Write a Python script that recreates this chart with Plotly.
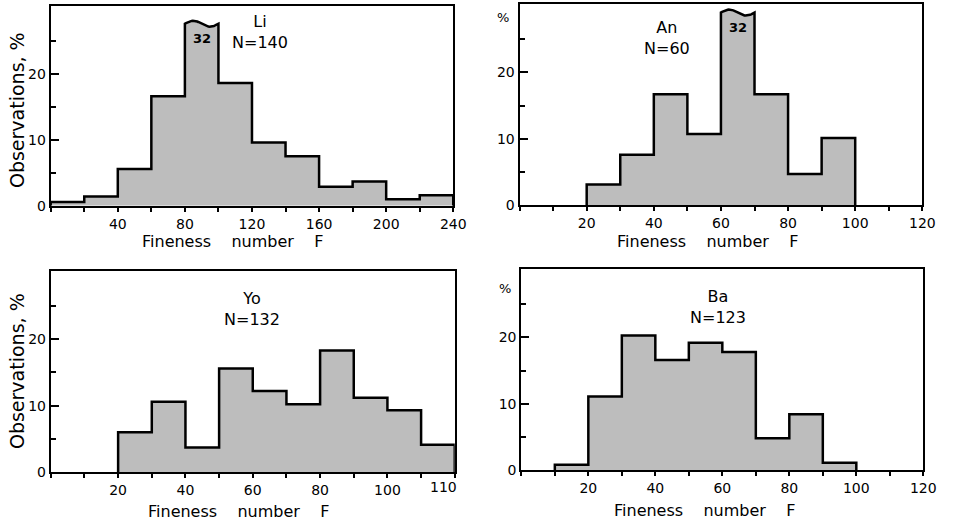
import numpy as np
import plotly.graph_objects as go

# ---------------- data ----------------
li_values = [0.6, 1.4, 5.6, 16.6, 32, 18.6, 9.6, 7.5, 2.9, 3.7, 1.0, 1.6]   # bins of 20 from 0
an_values = [3.1, 7.6, 16.7, 10.7, 32, 16.7, 4.7, 10.1]                     # bins of 10 from 20
yo_values = [6.0, 10.6, 3.7, 15.6, 12.2, 10.2, 18.3, 11.2, 9.3, 4.1]        # bins of 10 from 20
ba_values = [0.8, 11.1, 20.3, 16.6, 19.2, 17.8, 4.8, 8.4, 1.1]              # bins of 10 from 10

names = ["Li", "An", "Yo", "Ba"]
counts = ["N=140", "N=60", "N=132", "N=123"]
bin_starts = [0, 20, 20, 10]
bin_widths = [20, 10, 10, 10]

li_ticks = [40, 80, 120, 160, 200, 240]
an_ticks = [20, 40, 60, 80, 100, 120]
yo_ticks = [20, 40, 60, 80, 100]
yo_extra_label = "110"
ba_ticks = [20, 40, 60, 80, 100, 120]
y_ticks = [0, 10, 20]

x_title = "Fineness    number    F"
y_title = "Observations, %"

FONT = "DejaVu Sans"
FILL = "#bdbdbd"

W, H = 959, 528

panels = [
    dict(values=li_values, x_range=[0, 240], ticks=li_ticks, minor=20, cap=27.6,
         px=(51.4, 459.5, 6, 209), label_xy=(124.5, 26.4), xt=(236, 245)),
    dict(values=an_values, x_range=[0, 120], ticks=an_ticks, minor=10, cap=29.0,
         px=(526.7, 935, 4, 208.3), label_xy=(44, 25.2), xt=(717, 245)),
    dict(values=yo_values, x_range=[0, 120], ticks=yo_ticks, minor=10, cap=None,
         px=(51.5, 461, 275, 479.3), label_xy=(59.8, 24.6), xt=(242, 519)),
    dict(values=ba_values, x_range=[0, 120], ticks=ba_ticks, minor=10, cap=None,
         px=(528.5, 936, 273.3, 477.3), label_xy=(58.8, 24.6), xt=(714, 518)),
]

fig = go.Figure()
annotations = []
layout = dict(
    width=W, height=H, margin=dict(l=0, r=0, t=0, b=0),
    paper_bgcolor="white", plot_bgcolor="white", showlegend=False,
    font=dict(family=FONT, color="black"),
)


def paper_text(px_, py_, text, size, angle=0):
    return dict(x=px_ / W, y=1 - py_ / H, xref="paper", yref="paper",
                xanchor="center", yanchor="middle", text=text, textangle=angle,
                showarrow=False, font=dict(size=size, family=FONT))


for k, p in enumerate(panels):
    idx = "" if k == 0 else str(k + 1)
    xa, ya = "x" + idx, "y" + idx
    vals = p["values"]
    start, width = bin_starts[k], bin_widths[k]
    edges = [start + i * width for i in range(len(vals) + 1)]

    xs, ys = [edges[0]], [0]
    peaks = []
    for i, v in enumerate(vals):
        l, r = edges[i], edges[i + 1]
        if p["cap"] is not None and v > p["cap"]:
            t = np.linspace(0, 1, 31)
            xs += list(l + t * (r - l))
            ys += list(p["cap"] + 0.45 * np.sin(2 * np.pi * t))
            peaks.append(((l + r) / 2, v))
        else:
            xs += [l, r]
            ys += [v, v]
    xs.append(edges[-1])
    ys.append(0)

    fig.add_trace(go.Scatter(
        x=xs, y=ys, mode="lines", fill="tozeroy", fillcolor=FILL,
        line=dict(color="black", width=2.5), xaxis=xa, yaxis=ya,
        hoverinfo="skip"))

    x0, x1, yt, yb = p["px"]
    layout["xaxis" + idx] = dict(
        domain=[x0 / W, x1 / W], range=p["x_range"], anchor=ya,
        showline=True, mirror=True, linecolor="black", linewidth=2,
        showgrid=False, zeroline=False,
        tickmode="array", tickvals=p["ticks"], ticktext=[str(t) for t in p["ticks"]],
        ticks="outside", ticklen=4, tickwidth=1.5, tickcolor="black",
        tickfont=dict(size=14, family=FONT),
        minor=dict(tickmode="linear", tick0=0, dtick=p["minor"], ticks="outside",
                   ticklen=4, tickwidth=1.5, tickcolor="black"),
    )
    layout["yaxis" + idx] = dict(
        domain=[1 - yb / H, 1 - yt / H], range=[0, 30.3], anchor=xa,
        showline=True, mirror=True, linecolor="black", linewidth=2,
        showgrid=False, zeroline=False,
        tickmode="array", tickvals=y_ticks, ticktext=[str(t) for t in y_ticks],
        ticks="inside", ticklen=8, tickwidth=1.5, tickcolor="black",
        tickfont=dict(size=14, family=FONT),
        minor=dict(tickmode="linear", tick0=5, dtick=10, ticks="inside",
                   ticklen=5, tickwidth=1.5, tickcolor="black"),
    )

    # sample name and count inside the panel
    annotations.append(dict(x=p["label_xy"][0], y=p["label_xy"][1], xref=xa, yref=ya,
                            text=names[k] + "<br>" + counts[k], showarrow=False,
                            align="center", font=dict(size=16, family=FONT)))
    for cx, v in peaks:
        annotations.append(dict(x=cx, y=p["cap"] - 2.3, xref=xa, yref=ya,
                                text="<b>%d</b>" % v, showarrow=False,
                                font=dict(size=13, family=FONT)))

    # x title
    annotations.append(paper_text(p["xt"][0], p["xt"][1], x_title, 16))

# y titles (left column) and % marks (right column)
for yc in (112, 377):
    annotations.append(paper_text(18, yc, y_title, 19, angle=-90))
for px_, py_ in ((510, 18), (512, 293)):
    annotations.append(paper_text(px_, py_, "%", 13))

# mislabelled last tick label of the Yo panel
a = paper_text(0, 494, yo_extra_label, 14)
a.update(x=116.6, xref="x3")
annotations.append(a)

layout["annotations"] = annotations
fig.update_layout(**layout)
fig.write_html("out.html")
